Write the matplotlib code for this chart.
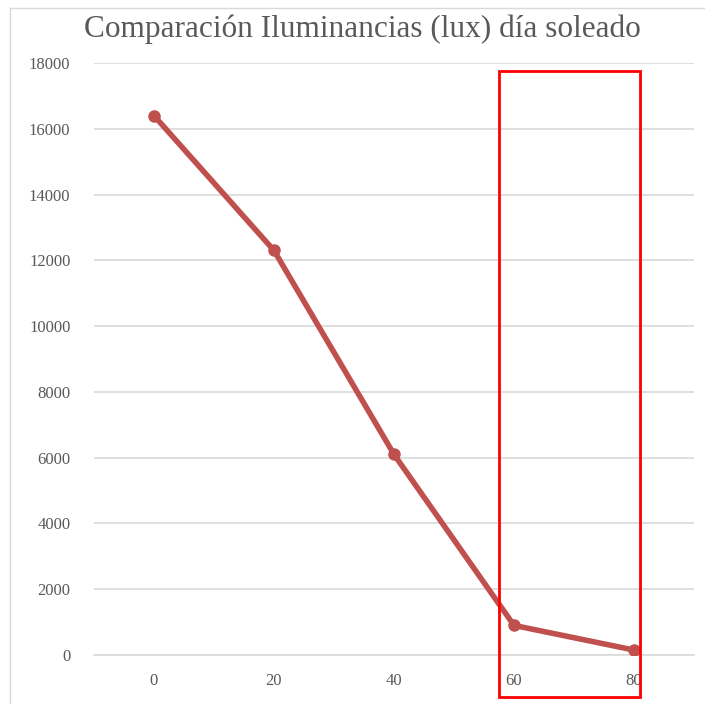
import matplotlib.pyplot as plt
from matplotlib.patches import Rectangle
from matplotlib.lines import Line2D

# Datos: distancia (categorias) y iluminancia medida en lux
distancias = ['0', '20', '40', '60', '80']
iluminancia = [16400, 12300, 6100, 900, 150]
marcas_y = list(range(0, 18001, 2000))

color_linea = '#C0504D'
color_texto = '#595959'
fuente = ['Liberation Serif', 'DejaVu Serif']

fig = plt.figure(figsize=(7.05, 7.04), dpi=100)
ax = fig.add_axes([0.1333, 0.0696, 0.8511, 0.8409])

x = range(len(distancias))
ax.plot(x, iluminancia, '-o', color=color_linea, lw=4, ms=8, zorder=3)

ax.set_xlim(-0.5, len(distancias) - 0.5)
ax.set_ylim(0, 18000)
ax.set_xticks(list(x))
ax.set_xticklabels(distancias)
ax.set_yticks(marcas_y)
ax.set_yticklabels([str(v) for v in marcas_y])
ax.grid(axis='y', color='#D9D9D9', lw=1.2)
ax.set_axisbelow(True)
for s in ax.spines.values():
    s.set_visible(False)
ax.spines['bottom'].set_visible(True)
ax.spines['bottom'].set_color('#D9D9D9')
ax.spines['bottom'].set_linewidth(1.2)
ax.tick_params(length=0, labelcolor=color_texto, labelsize=12, pad=13)
ax.tick_params(axis='y', pad=17)
for lab in ax.get_xticklabels() + ax.get_yticklabels():
    lab.set_family(fuente)

fig.text(0.514, 0.958, 'Comparación Iluminancias (lux) día soleado',
         ha='center', va='center', fontsize=22.5, color=color_texto, family=fuente)

# marco exterior del grafico (izquierda y arriba)
fig.add_artist(Line2D([0.014, 0.014], [0, 0.989], color='#D9D9D9', lw=1))
fig.add_artist(Line2D([0.014, 1], [0.989, 0.989], color='#D9D9D9', lw=1))

# recuadro rojo que destaca 60-80
fig.add_artist(Rectangle((499 / 705, 1 - 697 / 704), 141 / 705, 626 / 704,
                         transform=fig.transFigure, fill=False,
                         edgecolor='#FF0000', lw=2, zorder=5))

fig.savefig('out.png', dpi=100)
